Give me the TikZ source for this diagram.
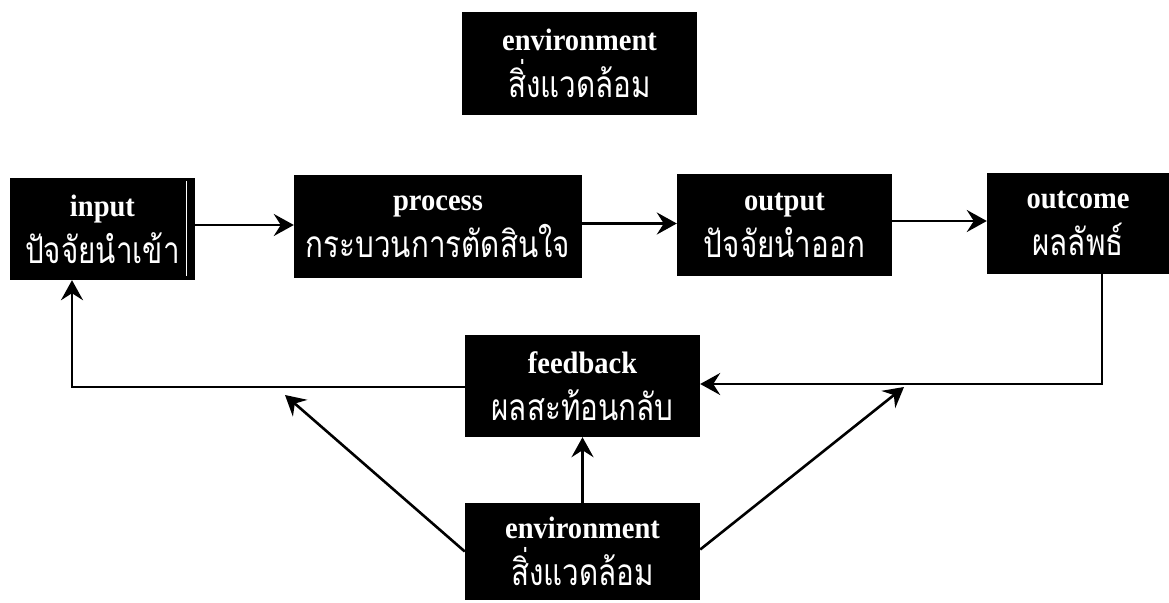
\documentclass[tikz,border=0pt]{standalone}
\usepackage{fontspec}
\setmainfont{Liberation Serif}
\newfontfamily\thaifont[Script=Thai,FakeStretch=0.8]{Loma}
\newfontfamily\engfont[FakeStretch=0.92]{Liberation Serif}
\usetikzlibrary{arrows.meta}
\begin{document}
\begin{tikzpicture}[x=1pt,y=-1pt,
  box/.style={fill=black,text=white,inner sep=0pt,align=center,
    font=\engfont\fontsize{31}{47}\selectfont\bfseries},
  conn/.style={line width=2.6pt,line join=miter},
  arr/.style={conn,-{Stealth[length=20pt,width=22pt,inset=7pt]}}]
\useasboundingbox (0,0) rectangle (1169,602);
\newcommand{\thl}[1]{{\thaifont\mdseries\fontsize{37}{47}\selectfont #1}}
\node[box,minimum width=235pt,minimum height=103pt] (envtop) at (579.5,63.5) {environment\\\thl{สิ่งแวดล้อม}};
\node[box,minimum width=185pt,minimum height=102pt] (input) at (102.5,229) {input\\\thl{ปัจจัยนำเข้า}};
\node[box,minimum width=288pt,minimum height=103pt] (process) at (438,226.5) {process\\\thl{กระบวนการตัดสินใจ}};
\node[box,minimum width=215pt,minimum height=102pt] (output) at (784.5,225) {output\\\thl{ปัจจัยนำออก}};
\node[box,minimum width=182pt,minimum height=101pt] (outcome) at (1078,223.5) {outcome\\\thl{ผลลัพธ์}};
\node[box,minimum width=235pt,minimum height=102pt] (feedback) at (582.5,386) {feedback\\\thl{ผลสะท้อนกลับ}};
\node[box,minimum width=235pt,minimum height=97pt] (envbot) at (582.5,551.5) {environment\\\thl{สิ่งแวดล้อม}};
\draw[white,line width=1pt] (186,181) -- (186,276);
% main flow
\draw[arr] ([yshift=4pt]input.east) -- ([yshift=4pt]input.east -| process.west);
\draw[arr] ([yshift=3pt]process.east) -- ([yshift=3pt]process.east -| output.west);
\draw[arr] ([yshift=4pt]output.east) -- ([yshift=4pt]output.east -| outcome.west);
% feedback loop
\coordinate (rc) at (1102,384);
\coordinate (lc) at (72,387);
\draw[arr] (outcome.south -| rc) -- (rc) -- (rc -| feedback.east);
\draw[arr] (feedback.west |- lc) -- (lc) -- (lc |- input.south);
% environment influences
\coordinate (tl) at (285,395);
\coordinate (tr) at (904,387);
\draw[arr] (envbot.north) -- (feedback.south);
\draw[arr] (envbot.west) -- (tl);
\draw[arr] ([yshift=2pt]envbot.east) -- (tr);
\end{tikzpicture}
\end{document}
